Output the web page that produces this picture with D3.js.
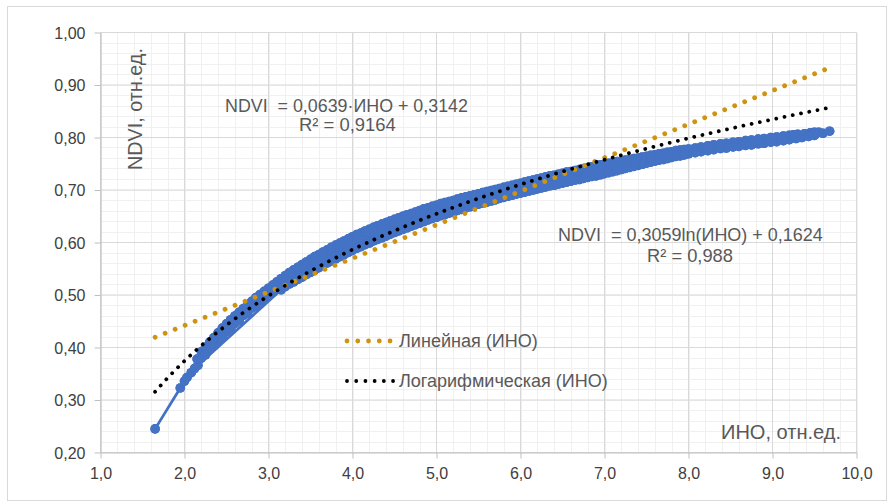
<!DOCTYPE html>
<html>
<head>
<meta charset="utf-8">
<script src="https://cdn.jsdelivr.net/npm/d3@7"></script>
<style>
  html, body { margin: 0; padding: 0; background: #fff; }
  svg text { font-family: "Liberation Sans", Arial, sans-serif; white-space: pre; }
</style>
</head>
<body>
<svg id="chart" width="891" height="504"></svg>
<script>
// ---------- data ----------
const xTicks = [1, 2, 3, 4, 5, 6, 7, 8, 9, 10];
const xTickLabels = ["1,0", "2,0", "3,0", "4,0", "5,0", "6,0", "7,0", "8,0", "9,0", "10,0"];
const yTicks = [0.2, 0.3, 0.4, 0.5, 0.6, 0.7, 0.8, 0.9, 1.0];
const yTickLabels = ["0,20", "0,30", "0,40", "0,50", "0,60", "0,70", "0,80", "0,90", "1,00"];

// ИНО (x) and NDVI (y) observations, in series order
const ino = [
  1.65, 1.95, 2.00, 2.03, 2.08, 2.12, 2.16,
  3.15,
  3.2, 3.3, 3.4, 3.5, 3.6, 3.7, 3.8, 3.9, 4.0, 4.1, 4.2, 4.3, 4.4, 4.5, 4.6, 4.7, 4.8, 4.9,
  5.0, 5.1, 5.2, 5.3, 5.4, 5.5, 5.6, 5.7, 5.8, 5.9, 6.0, 6.1, 6.2, 6.3, 6.4, 6.5, 6.6, 6.7, 6.8, 6.9,
  7.0, 7.1, 7.2, 7.3, 7.4, 7.5, 7.6, 7.7, 7.8, 7.9, 8.0, 8.15, 8.3, 8.45, 8.6, 8.75, 8.9, 9.05,
  9.2, 9.35, 9.5, 9.6, 9.68,
  9.55, 9.45, 9.3, 9.2, 9.05, 8.9, 8.75, 8.6, 8.45, 8.3, 8.15, 8.0, 7.9, 7.8, 7.7, 7.6, 7.5, 7.4,
  7.3, 7.2, 7.1, 7.0, 6.9, 6.8, 6.7, 6.6, 6.5, 6.4, 6.3, 6.2, 6.1, 6.0, 5.9, 5.8, 5.7, 5.6, 5.5,
  5.4, 5.3, 5.2, 5.1, 5.0, 4.9, 4.8, 4.7, 4.6, 4.5, 4.4, 4.3, 4.2, 4.1, 4.0, 3.9, 3.8, 3.7, 3.6,
  3.5, 3.4, 3.3, 3.2, 3.1, 3.0, 2.9, 2.8, 2.7, 2.6, 2.5, 2.4, 2.3, 2.2, 2.15,
  2.2, 2.25, 2.3, 2.35, 2.4, 2.45, 2.5, 2.55, 2.6, 2.65, 2.7, 2.75, 2.8, 2.85, 2.9, 2.95, 3.0,
  3.05, 3.15, 3.25, 3.35, 3.45, 3.55, 3.65, 3.75, 3.85, 3.95, 4.05, 4.15, 4.25, 4.35, 4.45, 4.55,
  4.65, 4.75, 4.85, 4.95, 5.05, 5.15, 5.25, 5.35, 5.45, 5.55, 5.65, 5.75, 5.85, 5.95, 6.05, 6.15,
  6.25, 6.35, 6.45, 6.55, 6.65, 6.75, 6.85, 6.95, 7.05, 7.15, 7.25, 7.35, 7.45, 7.55, 7.65, 7.75,
  7.85, 7.95, 8.05, 8.2, 8.35, 8.5, 8.65, 8.8, 8.95, 9.1, 9.25, 9.4,
  9.5, 9.38, 9.25, 9.13, 8.98, 8.83, 8.68, 8.53, 8.38, 8.23, 8.08, 7.95, 7.85, 7.75, 7.65, 7.55,
  7.45, 7.35, 7.25, 7.15, 7.05, 6.95, 6.85, 6.75, 6.65, 6.55, 6.45, 6.35, 6.25, 6.15, 6.05, 5.95,
  5.85, 5.75, 5.65, 5.55, 5.45, 5.35, 5.25, 5.15, 5.05, 4.95, 4.85, 4.75, 4.65, 4.55, 4.45, 4.35,
  4.25, 4.15, 4.05, 3.95, 3.85, 3.75, 3.65, 3.55, 3.45, 3.35, 3.25, 3.15, 3.05, 2.95, 2.85, 2.75,
  2.65, 2.55, 2.45, 2.35, 2.25,
  2.25, 2.35, 2.45, 2.55, 2.65, 2.75, 2.85, 2.95, 3.05, 3.15, 3.25, 3.35, 3.45, 3.55, 3.65, 3.75,
  3.85, 3.95, 4.05, 4.15, 4.25, 4.35, 4.45, 4.55, 4.65, 4.75, 4.85, 4.95, 5.05, 5.15, 5.25, 5.35,
  5.45, 5.55, 5.65, 5.75, 5.85, 5.95, 6.05, 6.15, 6.25, 6.35, 6.45, 6.55, 6.65, 6.75, 6.85, 6.95,
  7.05, 7.15, 7.25, 7.35, 7.45, 7.55, 7.65, 7.75, 7.85, 7.95, 8.08, 8.23, 8.38, 8.53, 8.68, 8.83,
  8.98, 9.13, 9.28, 9.43
];
const ndvi = [
  0.245, 0.323, 0.336, 0.343, 0.352, 0.360, 0.366,
  0.510,
  0.516, 0.525, 0.534, 0.543, 0.552, 0.561, 0.569, 0.577, 0.585, 0.592, 0.599, 0.606, 0.612, 0.619, 0.625, 0.631, 0.637, 0.643,
  0.648, 0.653, 0.658, 0.663, 0.668, 0.673, 0.677, 0.681, 0.686, 0.690, 0.694, 0.698, 0.702, 0.706, 0.709, 0.713, 0.717, 0.720, 0.724, 0.727,
  0.731, 0.735, 0.739, 0.743, 0.747, 0.751, 0.755, 0.758, 0.762, 0.765, 0.769, 0.773, 0.777, 0.780, 0.783, 0.786, 0.789, 0.792,
  0.796, 0.800, 0.804, 0.808, 0.812,
  0.810, 0.809, 0.806, 0.804, 0.801, 0.798, 0.795, 0.792, 0.789, 0.786, 0.782, 0.778, 0.776, 0.773, 0.770, 0.767, 0.764, 0.761,
  0.758, 0.755, 0.752, 0.749, 0.746, 0.742, 0.739, 0.735, 0.732, 0.728, 0.725, 0.721, 0.717, 0.713, 0.709, 0.705, 0.701, 0.697, 0.693,
  0.689, 0.685, 0.680, 0.676, 0.671, 0.666, 0.661, 0.655, 0.650, 0.644, 0.638, 0.632, 0.625, 0.618, 0.611, 0.603, 0.595, 0.586, 0.577,
  0.568, 0.558, 0.548, 0.537, 0.525, 0.513, 0.501, 0.488, 0.474, 0.460, 0.445, 0.428, 0.410, 0.392, 0.378,
  0.380, 0.388, 0.397, 0.405, 0.413, 0.422, 0.430, 0.438, 0.446, 0.453, 0.461, 0.468, 0.475, 0.482, 0.488, 0.495, 0.502,
  0.512, 0.522, 0.531, 0.541, 0.551, 0.560, 0.569, 0.578, 0.586, 0.594, 0.601, 0.609, 0.616, 0.622, 0.628, 0.635,
  0.640, 0.646, 0.652, 0.657, 0.662, 0.667, 0.672, 0.676, 0.681, 0.685, 0.689, 0.693, 0.698, 0.702, 0.706, 0.710,
  0.714, 0.717, 0.721, 0.724, 0.728, 0.731, 0.735, 0.738, 0.742, 0.745, 0.749, 0.752, 0.756, 0.759, 0.763, 0.766,
  0.769, 0.772, 0.775, 0.779, 0.783, 0.786, 0.789, 0.792, 0.795, 0.798, 0.801, 0.804,
  0.810, 0.807, 0.805, 0.803, 0.800, 0.797, 0.794, 0.791, 0.788, 0.784, 0.780, 0.777, 0.775, 0.772, 0.769, 0.766,
  0.763, 0.760, 0.757, 0.754, 0.751, 0.748, 0.744, 0.741, 0.737, 0.734, 0.730, 0.727, 0.723, 0.719, 0.715, 0.711,
  0.707, 0.703, 0.699, 0.695, 0.691, 0.687, 0.683, 0.678, 0.674, 0.669, 0.664, 0.658, 0.653, 0.647, 0.641, 0.635,
  0.629, 0.622, 0.615, 0.607, 0.599, 0.591, 0.582, 0.573, 0.563, 0.553, 0.543, 0.531, 0.519, 0.507, 0.495, 0.481,
  0.467, 0.453, 0.437, 0.419, 0.401,
  0.386, 0.403, 0.420, 0.436, 0.451, 0.465, 0.479, 0.492, 0.505, 0.513, 0.521, 0.530, 0.539, 0.548, 0.557, 0.565,
  0.573, 0.581, 0.589, 0.596, 0.603, 0.609, 0.616, 0.622, 0.628, 0.634, 0.640, 0.646, 0.651, 0.656, 0.661, 0.666,
  0.671, 0.675, 0.679, 0.684, 0.688, 0.692, 0.696, 0.700, 0.704, 0.708, 0.711, 0.715, 0.719, 0.722, 0.726, 0.729,
  0.733, 0.737, 0.741, 0.745, 0.749, 0.753, 0.757, 0.760, 0.764, 0.767, 0.771, 0.775, 0.779, 0.782, 0.785, 0.788,
  0.791, 0.794, 0.798, 0.802
];

// trend line coefficients shown on the chart
const linearCoef = [0.0639, 0.3142];   // NDVI = a*ИНО + b
const logCoef = [0.3059, 0.1624];      // NDVI = a*ln(ИНО) + b
const equationTexts = ["NDVI  = 0,0639·ИНО + 0,3142", "R² = 0,9164", "NDVI  = 0,3059ln(ИНО) + 0,1624", "R² = 0,988"];
const legendLabels = ["Линейная (ИНО)", "Логарифмическая (ИНО)"];
const xTitle = "ИНО, отн.ед.";
const yTitle = "NDVI, отн.ед.";

// ---------- drawing ----------
const svg = d3.select("#chart");
const L = 100.5, R = 856.5, T = 32.5, B = 452.5;
const x = d3.scaleLinear().domain([1, 10]).range([L, R]);
const y = d3.scaleLinear().domain([0.2, 1.0]).range([B, T]);

// chart border
svg.append("rect").attr("x", 7.5).attr("y", 6.5).attr("width", 879).attr("height", 494)
  .attr("fill", "#fff").attr("stroke", "#d9d9d9").attr("stroke-width", 1);

const grid = svg.append("g");
// minor grid
const xMinor = d3.range(1, 10.001, 0.2).map(v => +v.toFixed(2));
const yMinor = d3.range(0.2, 1.0001, 0.02).map(v => +v.toFixed(3));
grid.selectAll(".xm").data(xMinor).enter().append("line")
  .attr("x1", d => Math.round(x(d)) + 0.5).attr("x2", d => Math.round(x(d)) + 0.5)
  .attr("y1", T).attr("y2", B).attr("stroke", "#f0f0f0");
grid.selectAll(".ym").data(yMinor).enter().append("line")
  .attr("y1", d => Math.round(y(d) - 0.5) + 0.5).attr("y2", d => Math.round(y(d) - 0.5) + 0.5)
  .attr("x1", L).attr("x2", R).attr("stroke", "#f0f0f0");
// major grid
grid.selectAll(".xM").data(xTicks).enter().append("line")
  .attr("x1", d => x(d)).attr("x2", d => x(d))
  .attr("y1", T).attr("y2", B).attr("stroke", "#d9d9d9");
grid.selectAll(".yM").data(yTicks).enter().append("line")
  .attr("y1", d => y(d)).attr("y2", d => y(d))
  .attr("x1", L).attr("x2", R).attr("stroke", "#d9d9d9");

// axes
const xAxis = d3.axisBottom(x).tickValues(xTicks).tickSize(6).tickSizeOuter(0)
  .tickFormat((d, i) => xTickLabels[i]);
const yAxis = d3.axisLeft(y).tickValues(yTicks).tickSize(6).tickSizeOuter(0)
  .tickFormat((d, i) => yTickLabels[i]);
const gx = svg.append("g").attr("transform", `translate(0,${B})`).call(xAxis);
const gy = svg.append("g").attr("transform", `translate(${L},0)`).call(yAxis);
[gx, gy].forEach(g => {
  g.select(".domain").attr("stroke", "#bfbfbf");
  g.selectAll(".tick line").attr("stroke", "#bfbfbf");
  g.selectAll(".tick text").attr("fill", "#404040")
    .style("font-family", '"Liberation Sans", Arial, sans-serif').style("font-size", "16px");
});
gx.selectAll(".tick text").attr("y", 0).attr("dy", 0).attr("transform", "translate(0,26.5)");
gy.selectAll(".tick text").attr("x", -15).attr("dy", "0.35em");

// data series
const pts = ino.map((v, i) => [v, ndvi[i]]);
const blue = "#4472c4";
svg.append("path").datum(pts)
  .attr("d", d3.line().x(d => x(d[0])).y(d => y(d[1])))
  .attr("fill", "none").attr("stroke", blue).attr("stroke-width", 2.8)
  .attr("stroke-linejoin", "round").attr("stroke-linecap", "round");
// markers drawn twice so that overlapping anti-aliased edges render as a solid band
[0, 1].forEach(() => {
  svg.append("g").selectAll("circle").data(pts).enter().append("circle")
    .attr("cx", d => x(d[0])).attr("cy", d => y(d[1])).attr("r", 4.8).attr("fill", blue);
});

// trend lines
const xMin = d3.min(ino), xMax = d3.max(ino);
const orange = "#cf9312";
const linPts = [xMin, xMax - 0.02].map(v => [v, linearCoef[0] * v + linearCoef[1]]);
const logX = d3.range(0, 201).map(i => xMin + (xMax - 0.03 - xMin) * i / 200);
const logPts = logX.map(v => [v, logCoef[0] * Math.log(v) + logCoef[1]]);
const ln = d3.line().x(d => x(d[0])).y(d => y(d[1]));
svg.append("path").datum(linPts).attr("d", ln).attr("fill", "none")
  .attr("stroke", orange).attr("stroke-width", 4.8).attr("stroke-linecap", "round")
  .attr("stroke-dasharray", "0.01 10.75");
svg.append("path").datum(logPts).attr("d", ln).attr("fill", "none")
  .attr("stroke", "#000").attr("stroke-width", 3.8).attr("stroke-linecap", "round")
  .attr("stroke-dasharray", "0.01 8.4");

// text helper: fit a text to a target width
function fitText(sel, targetW, base) {
  sel.style("font-size", base + "px");
  const w = sel.node().getComputedTextLength();
  sel.style("font-size", (base * targetW / w).toFixed(2) + "px");
  return sel;
}
const grey = "#595959";
function addText(str, xx, yy, w) {
  const t = svg.append("text").attr("x", xx).attr("y", yy).attr("fill", grey).text(str);
  fitText(t, w, 17);
  return t;
}
// equations
addText(equationTexts[0], 225, 111.7, 243);
addText(equationTexts[1], 299, 130.7, 97);
addText(equationTexts[2], 558, 241, 265);
addText(equationTexts[3], 647, 261.7, 86);

// legend
svg.append("line").attr("x1", 347).attr("x2", 391).attr("y1", 341).attr("y2", 341)
  .attr("stroke", orange).attr("stroke-width", 4.8).attr("stroke-linecap", "round")
  .attr("stroke-dasharray", "0.01 10.75");
svg.append("line").attr("x1", 347).attr("x2", 394).attr("y1", 381).attr("y2", 381)
  .attr("stroke", "#000").attr("stroke-width", 3.8).attr("stroke-linecap", "round")
  .attr("stroke-dasharray", "0.01 9.2");
addText(legendLabels[0], 399, 347.3, 139);
addText(legendLabels[1], 399, 386.7, 209);

// axis titles
addText(xTitle, 721, 439.3, 120);
const yt = svg.append("text").attr("fill", grey)
  .attr("transform", "translate(141.7,170) rotate(-90)").attr("x", 0).attr("y", 0).text(yTitle);
fitText(yt, 122, 17);
</script>
</body>
</html>
